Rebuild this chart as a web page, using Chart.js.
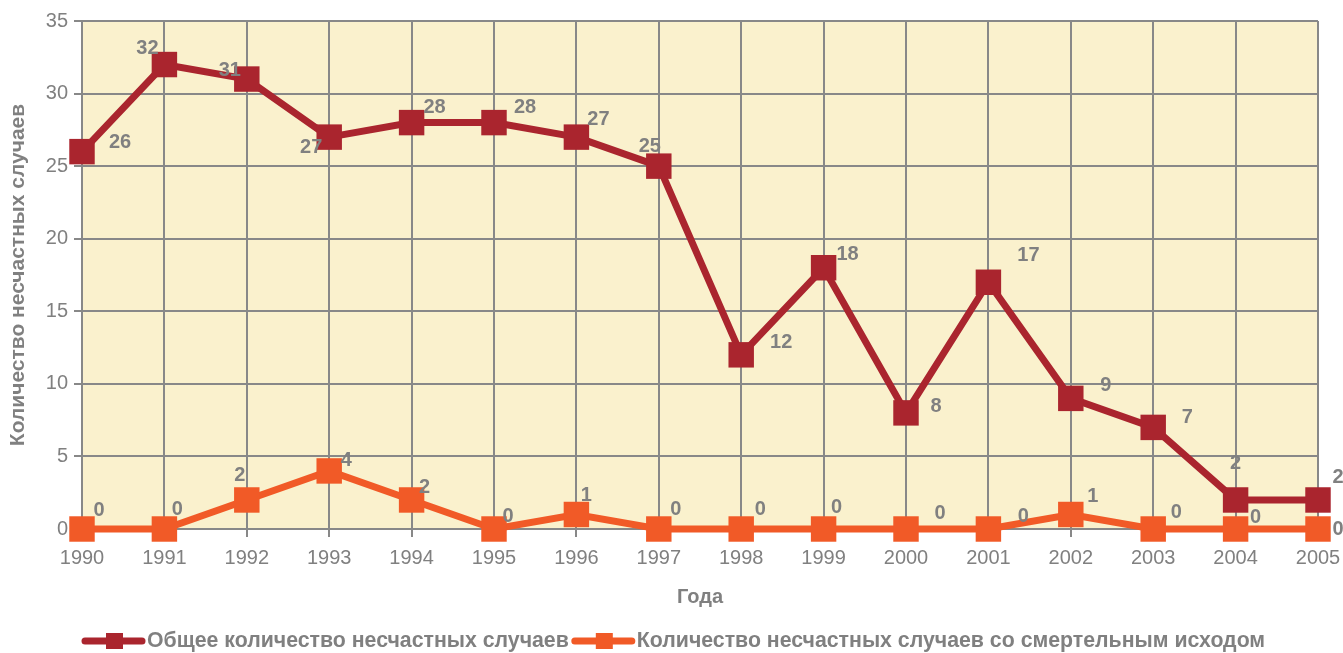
<!DOCTYPE html>
<html>
<head>
<meta charset="utf-8">
<script src="https://cdn.jsdelivr.net/npm/chart.js"></script>
<style>
  html, body { margin: 0; padding: 0; background: #fff; }
  #wrap { width: 1343px; height: 653px; }
</style>
</head>
<body>
<div id="wrap"><canvas id="accidentsChart"></canvas></div>
<script>
// Data
const years = ['1990', '1991', '1992', '1993', '1994', '1995', '1996', '1997',
               '1998', '1999', '2000', '2001', '2002', '2003', '2004', '2005'];
const totalAccidents = [26, 32, 31, 27, 28, 28, 27, 25, 12, 18, 8, 17, 9, 7, 2, 2];
const fatalAccidents = [0, 0, 2, 4, 2, 0, 1, 0, 0, 0, 0, 0, 1, 0, 0, 0];
const seriesNames = ['Общее количество несчастных случаев',
                     'Количество несчастных случаев со смертельным исходом'];
const yTicks = [0, 5, 10, 15, 20, 25, 30, 35];

// where each value label sits relative to its marker (px)
const labelShift = [
  [[38, -9], [-17, -16], [-17, -9], [-18, 10], [23, -15], [31, -15], [22, -18], [-9, -20],
   [40, -12], [24, -13], [30, -6], [40, -27], [35, -13], [34, -10], [0, -36], [20, -22]],
  [[17, -19], [13, -20], [-7, -24], [17, -10], [13, -12], [14, -13], [10, -19], [17, -20],
   [19, -20], [13, -22], [34, -16], [35, -13], [22, -18], [23, -17], [20, -12], [20, 0]]
];

const grey = '#808080';
const darkRed = '#AA252E';
const orange = '#F15A27';
const fontFamily = '"Liberation Sans", Arial, sans-serif';

const plotBackground = {
  id: 'plotBackground',
  beforeDraw(chart) {
    const { ctx, chartArea: a } = chart;
    ctx.save();
    ctx.fillStyle = '#FAF1CD';
    ctx.fillRect(a.left, a.top, a.right - a.left, a.bottom - a.top);
    ctx.restore();
  }
};

const valueLabels = {
  id: 'valueLabels',
  afterDatasetsDraw(chart) {
    const ctx = chart.ctx;
    ctx.save();
    ctx.font = 'bold 20px ' + fontFamily;
    ctx.fillStyle = grey;
    ctx.textAlign = 'center';
    ctx.textBaseline = 'middle';
    chart.data.datasets.forEach((ds, i) => {
      chart.getDatasetMeta(i).data.forEach((pt, j) => {
        const s = labelShift[i][j];
        ctx.fillText(String(ds.data[j]), pt.x + s[0], pt.y + s[1]);
      });
    });
    ctx.restore();
  }
};

const bottomLegend = {
  id: 'bottomLegend',
  afterDraw(chart) {
    const ctx = chart.ctx;
    const y = 641;
    ctx.save();
    ctx.font = 'bold 21.3px ' + fontFamily;
    ctx.textBaseline = 'middle';
    let x = 85;
    chart.data.datasets.forEach((ds, i) => {
      ctx.strokeStyle = ds.borderColor;
      ctx.lineWidth = 7;
      ctx.lineCap = 'round';
      ctx.beginPath();
      ctx.moveTo(x, y);
      ctx.lineTo(x + 57, y);
      ctx.stroke();
      ctx.fillStyle = ds.borderColor;
      ctx.fillRect(x + 21, y - 8, 17, 16);
      ctx.fillStyle = grey;
      ctx.textAlign = 'left';
      ctx.fillText(seriesNames[i], x + 62, y);
      x += 62 + ctx.measureText(seriesNames[i]).width + 6;
    });
    ctx.restore();
  }
};

new Chart(document.getElementById('accidentsChart'), {
  type: 'line',
  data: {
    labels: years,
    datasets: [
      {
        label: seriesNames[0],
        data: totalAccidents,
        borderColor: darkRed,
        backgroundColor: darkRed,
        borderWidth: 7,
        pointStyle: 'rect',
        pointRadius: 18,
        pointHoverRadius: 18,
        pointBorderWidth: 0,
        tension: 0,
        clip: false
      },
      {
        label: seriesNames[1],
        data: fatalAccidents,
        borderColor: orange,
        backgroundColor: orange,
        borderWidth: 7,
        pointStyle: 'rect',
        pointRadius: 18,
        pointHoverRadius: 18,
        pointBorderWidth: 0,
        tension: 0,
        clip: false
      }
    ]
  },
  options: {
    responsive: true,
    maintainAspectRatio: false,
    animation: false,
    layout: { padding: { top: 21, right: 25, bottom: 44, left: 0 } },
    plugins: {
      legend: { display: false },
      tooltip: { enabled: false }
    },
    scales: {
      x: {
        offset: false,
        grid: { color: '#888', lineWidth: 2, tickLength: 8, offset: false },
        border: { color: '#888', width: 2 },
        ticks: { color: grey, font: { family: fontFamily, size: 20 }, padding: 9, maxRotation: 0, autoSkip: false },
        title: { display: true, text: 'Года', color: grey, font: { family: fontFamily, size: 20, weight: 'bold' }, padding: { top: 0, bottom: 0 } },
        afterFit(scale) {
          scale.height = 80;
          scale.paddingRight = 0;
          scale.paddingLeft = 0;
        }
      },
      y: {
        min: 0,
        max: 35,
        afterBuildTicks(scale) { scale.ticks = yTicks.map(v => ({ value: v })); },
        grid: { color: '#888', lineWidth: 2, tickLength: 8 },
        border: { color: '#888', width: 2 },
        ticks: { color: grey, font: { family: fontFamily, size: 20 }, padding: 6 },
        title: { display: true, text: 'Количество несчастных случаев', color: grey, font: { family: fontFamily, size: 21, weight: 'bold' }, padding: { top: 6, bottom: 0 } },
        afterFit(scale) {
          scale.width = 82;
          scale.paddingTop = 0;
          scale.paddingBottom = 0;
        }
      }
    }
  },
  plugins: [plotBackground, valueLabels, bottomLegend]
});
</script>
</body>
</html>
